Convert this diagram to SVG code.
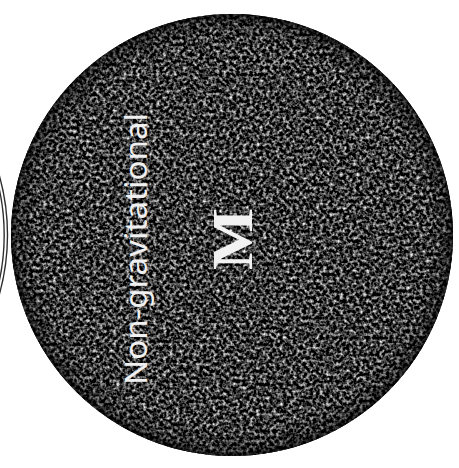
<svg xmlns="http://www.w3.org/2000/svg" width="459" height="468" viewBox="0 0 459 468">
  <style>
    .ring { fill: none; stroke: #2e2e2e; stroke-width: 1.4; }
    .label { fill: #f0f0f0; font-family: "Noto Sans", "DejaVu Sans", sans-serif; }
    .mass { fill: #f2f2f2; font-family: "Liberation Serif", "DejaVu Serif", serif; font-weight: bold; }
  </style>
  <defs>
    <filter id="grain" x="0" y="0" width="100%" height="100%" color-interpolation-filters="sRGB">
      <feTurbulence type="fractalNoise" baseFrequency="0.3" numOctaves="2" seed="7" result="n"/>
      <feColorMatrix in="n" type="matrix" values="2.1 0 0 0 -0.83  2.1 0 0 0 -0.83  2.1 0 0 0 -0.83  0 0 0 0 1" result="g"/>
      <feComposite in="g" in2="SourceGraphic" operator="in"/>
    </filter>
    <radialGradient id="rim" cx="0.5" cy="0.5" r="0.5">
      <stop offset="0.88" stop-color="#000" stop-opacity="0"/>
      <stop offset="0.97" stop-color="#000" stop-opacity="0.3"/>
      <stop offset="1" stop-color="#000" stop-opacity="0.75"/>
    </radialGradient>
  </defs>
  <rect width="459" height="468" fill="#ffffff"/>
  <g id="neighbour">
    <circle class="ring" cx="-212.5" cy="235" r="220"/>
    <circle class="ring" cx="-212.5" cy="235" r="216.7"/>
  </g>
  <g id="mass-body">
    <circle cx="232" cy="235" r="221" fill="#1c1c1c"/>
    <circle cx="232" cy="235" r="221" fill="#000" filter="url(#grain)"/>
    <circle cx="232" cy="235" r="221" fill="url(#rim)"/>
    <text class="label" font-size="31" textLength="272" lengthAdjust="spacingAndGlyphs" transform="translate(147,385) rotate(-90)">Non-gravitational</text>
    <text class="mass" font-size="58" textLength="62" lengthAdjust="spacingAndGlyphs" transform="translate(252,270) rotate(-90)">M</text>
  </g>
</svg>
